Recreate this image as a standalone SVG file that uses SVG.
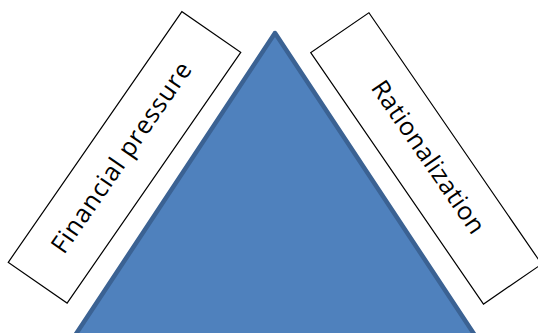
<svg xmlns="http://www.w3.org/2000/svg" width="538" height="333" viewBox="0 0 538 333">
<style>
.box{fill:#ffffff;stroke:#000000;stroke-width:1.2}
.lbl{font-family:"Open Sans","Liberation Sans",sans-serif;font-size:25px;fill:#000000;text-anchor:middle;dominant-baseline:central}
</style>
<rect width="538" height="333" fill="#ffffff"/>
<g id="triangle">
<polygon points="275,33 72,340 478,340" fill="#4f81bd" stroke="#3b6293" stroke-width="4.5" stroke-linejoin="round"/>
</g>
<g id="financial-pressure" transform="translate(124.5,157.3) rotate(-55.3)">
<rect class="box" x="-152.5" y="-35.8" width="305" height="71.6"/>
<text class="lbl" x="-2" y="-4" textLength="226" lengthAdjust="spacing">Financial  pressure</text>
</g>
<g id="rationalization" transform="translate(426.2,158.4) rotate(55.5)">
<rect class="box" x="-152.5" y="-35.3" width="305" height="70.6"/>
<text class="lbl" x="0" y="-4" textLength="180" lengthAdjust="spacing">Rationalization</text>
</g>
<g id="connectors"></g>
</svg>
